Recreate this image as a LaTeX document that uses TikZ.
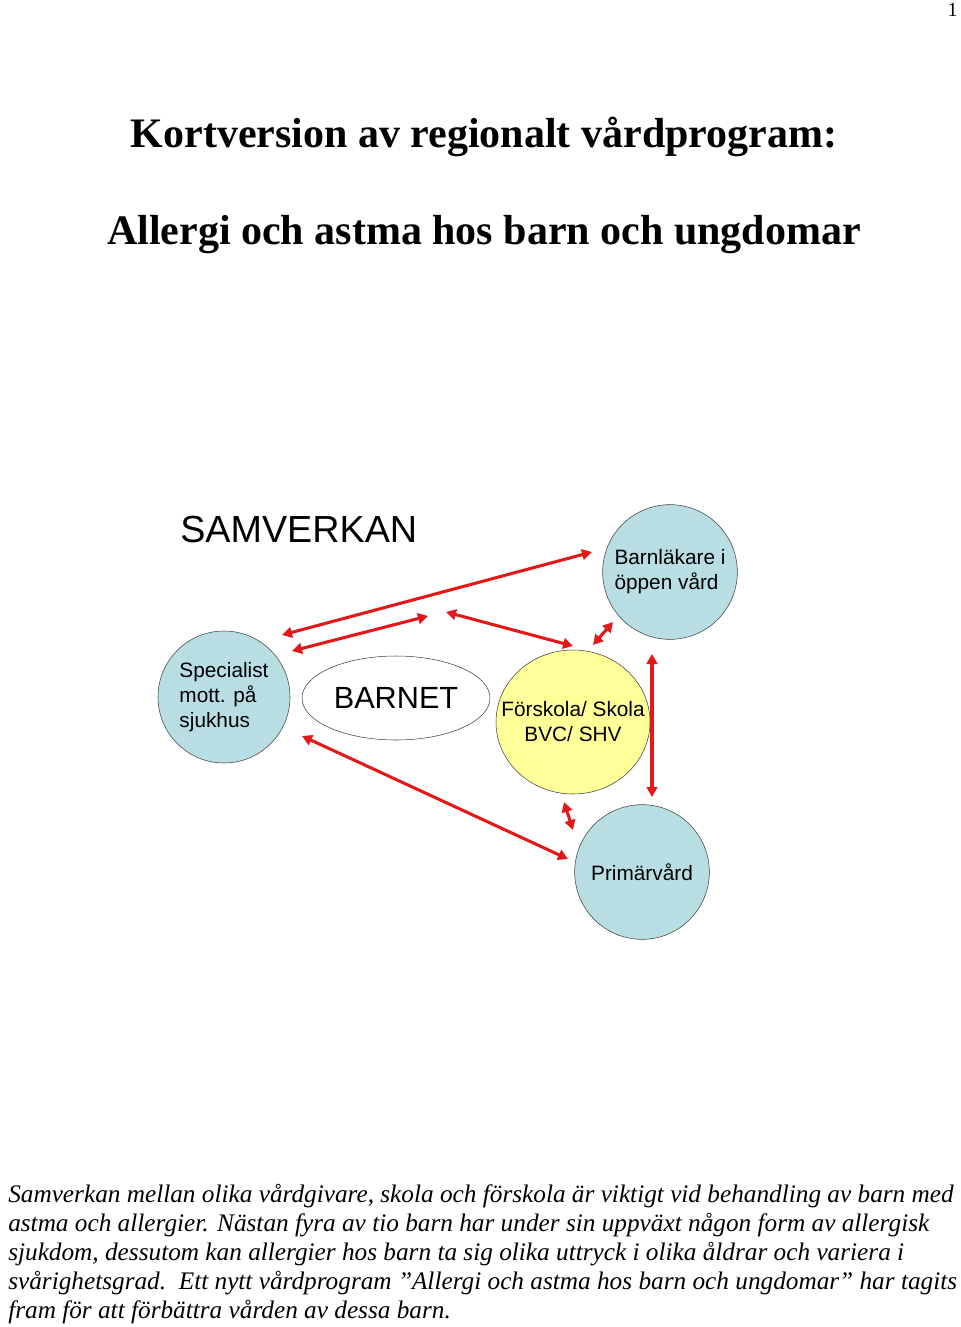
\documentclass[tikz,border=0pt]{standalone}
\usepackage{fontspec}
\setmainfont{Liberation Serif}
\setsansfont{Liberation Sans}
\usetikzlibrary{shapes.geometric}
\usetikzlibrary{arrows.meta}
\definecolor{lightblue}{rgb}{0.72,0.87,0.89}
\definecolor{lightyellow}{rgb}{1.0,1.0,0.6}
\definecolor{linkred}{rgb}{0.89,0.1,0.1}
\tikzset{
  title/.style={anchor=base,inner sep=0pt,font=\bfseries\fontsize{31.5}{38}\selectfont},
  nodetext/.style={font=\sffamily\fontsize{15.6}{18.75}\selectfont},
  unit/.style={circle,draw=black!75,fill=lightblue,inner sep=0pt,nodetext,align=left},
  link/.style={{Triangle[length=7.5pt,width=8pt]}-{Triangle[length=7.5pt,width=8pt]},draw=linkred,line width=2.3pt},
  bodytext/.style={anchor=base west,inner sep=0pt,font=\itshape\fontsize{18.95}{21.75}\selectfont},
}

\begin{document}
\begin{tikzpicture}[x=0.75pt,y=-0.75pt]
  \useasboundingbox (0,0) rectangle (960,1327);
  \node[anchor=base east,inner sep=0pt,font=\fontsize{15}{18}\selectfont] (pagenr) at (958,17) {1};
  \node[title] (title1) at (484,147) {Kortversion av regionalt vårdprogram:};
  \node[title] (title2) at (484,244) {Allergi och astma hos barn och ungdomar};

  \node[anchor=base west,inner sep=0pt,font=\sffamily\fontsize{28.3}{34}\selectfont] (samverkan) at (180,542) {SAMVERKAN};

  %% units round the child
  \node[unit,minimum size=99pt] (spec) at (224,697) {Specialist\\mott. på\\sjukhus};
  \node[ellipse,draw=black!75,fill=white,inner sep=0pt,minimum width=141pt,minimum height=63pt,font=\sffamily\fontsize{23}{28}\selectfont] (barnet) at (396,698) {BARNET};
  \node[ellipse,draw=black!75,fill=lightyellow,inner sep=0pt,minimum width=115.5pt,minimum height=108pt,
        label={[nodetext,align=center]center:Förskola/ Skola\\BVC/ SHV}] (forsk) at (573,722) {};
  \node[unit,minimum size=101pt] (lakare) at (670,572) {Barnläkare i\\öppen vård};
  \node[unit,minimum size=101pt] (prim) at (642,872) {Primärvård};

  \coordinate (gapl) at (428,616);
  \coordinate (gapr) at (446,612);

  \draw[link] ([shift={(58,-62)}]spec.center) -- ([shift={(-78,-20)}]lakare.center);
  \draw[link] ([shift={(68,-46)}]spec.center) -- (gapl);
  \draw[link] (gapr) -- ([shift={(0,-76)}]forsk.center);
  \draw[link] ([shift={(20,-77)}]forsk.center) -- ([shift={(-57,50)}]lakare.center);
  \draw[link] ([shift={(-18,82)}]lakare.center) -- ([shift={(10,-75)}]prim.center);
  \draw[link] ([shift={(78,39)}]spec.center) -- ([shift={(-74,-13)}]prim.center);
  \draw[link] ([shift={(-9,80)}]forsk.center) -- ([shift={(-69,-42)}]prim.center);

  \node[bodytext] (line1) at (8,1202) {Samverkan mellan olika vårdgivare, skola och förskola är viktigt vid behandling av barn med};
  \node[bodytext] (line2) at (8,1231) {astma och allergier. Nästan fyra av tio barn har under sin uppväxt någon form av allergisk};
  \node[bodytext] (line3) at (8,1260) {sjukdom, dessutom kan allergier hos barn ta sig olika uttryck i olika åldrar och variera i};
  \node[bodytext] (line4) at (8,1289) {svårighetsgrad.\ \ Ett nytt vårdprogram ”Allergi och astma hos barn och ungdomar” har tagits};
  \node[bodytext] (line5) at (8,1318) {fram för att förbättra vården av dessa barn.};
\end{tikzpicture}
\end{document}
